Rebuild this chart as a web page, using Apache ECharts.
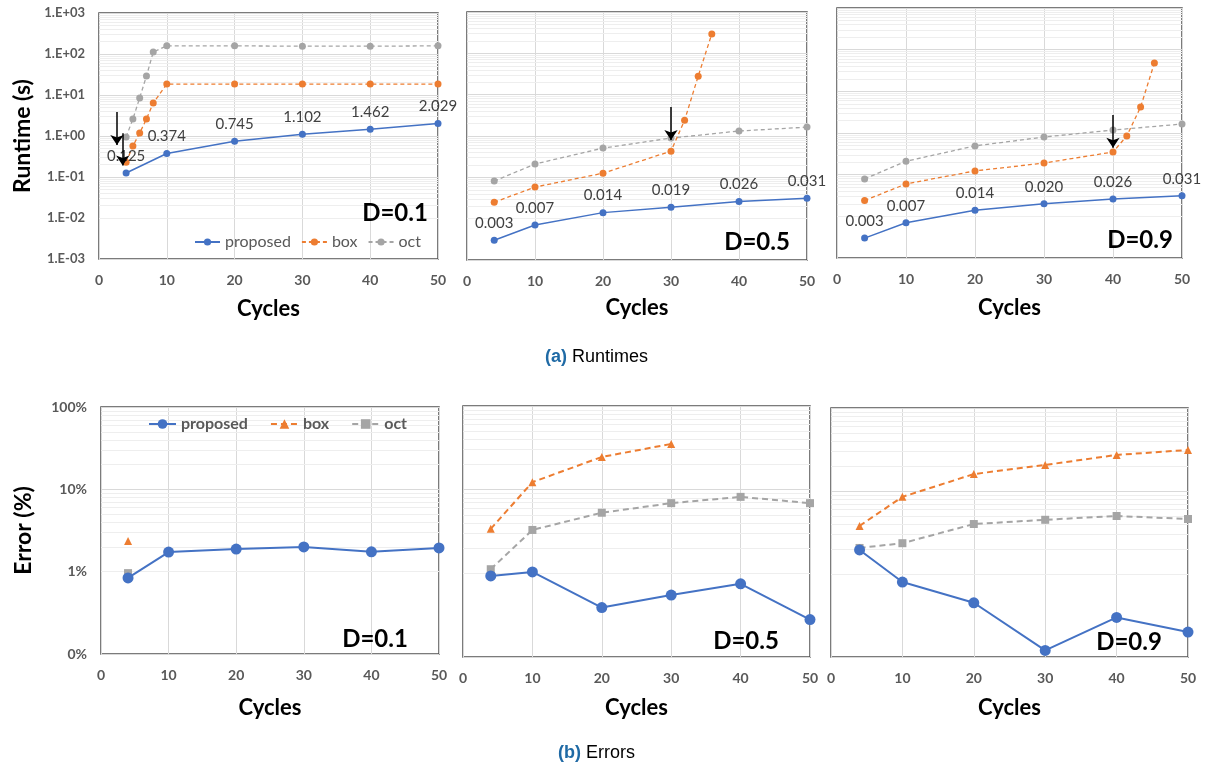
<!DOCTYPE html>
<html>
<head>
<meta charset="utf-8">
<script src="https://cdn.jsdelivr.net/npm/echarts@6/dist/echarts.min.js"></script>
<style>
  html, body { margin: 0; padding: 0; background: #fff; }
  #chart { width: 1206px; height: 768px; }
</style>
</head>
<body>
<div id="chart"></div>
<script>
// cycles used by most series
const cycles = [4, 10, 20, 30, 40, 50];

// runtimes (s), D=0.1
const rt1Proposed = [0.125, 0.374, 0.745, 1.102, 1.462, 2.029];
const rt1BoxCycles = [4, 5, 6, 7, 8, 10, 20, 30, 40, 50];
const rt1Box = [0.23, 0.57, 1.18, 2.6, 6.4, 18.5, 18.5, 18.5, 18.5, 18.5];
const rt1OctCycles = [4, 5, 6, 7, 8, 10, 20, 30, 40, 50];
const rt1Oct = [0.95, 2.6, 8.5, 29, 112, 158, 158, 155, 155, 158];
// runtimes (s), D=0.5
const rt2Proposed = [0.003, 0.007, 0.014, 0.019, 0.026, 0.031];
const rt2BoxCycles = [4, 10, 20, 30, 32, 34, 36];
const rt2Box = [0.025, 0.058, 0.126, 0.43, 2.4, 28, 295];
const rt2Oct = [0.081, 0.21, 0.51, 0.89, 1.32, 1.64];
// runtimes (s), D=0.9
const rt3Proposed = [0.003, 0.007, 0.014, 0.020, 0.026, 0.031];
const rt3BoxCycles = [4, 10, 20, 30, 40, 42, 44, 46];
const rt3Box = [0.024, 0.06, 0.123, 0.19, 0.35, 0.85, 4.2, 48];
const rt3Oct = [0.079, 0.21, 0.49, 0.8, 1.18, 1.64];

// errors (fraction), D=0.1
const err1Proposed = [0.0084, 0.0173, 0.0188, 0.020, 0.0174, 0.0194];
const err1BoxCycles = [4];
const err1Box = [0.0235];
const err1OctCycles = [4];
const err1Oct = [0.0096];
// errors, D=0.5
const err2Proposed = [0.0093, 0.0104, 0.0039, 0.0055, 0.0075, 0.0028];
const err2BoxCycles = [4, 10, 20, 30];
const err2Box = [0.034, 0.123, 0.246, 0.352];
const err2Oct = [0.0112, 0.033, 0.053, 0.069, 0.082, 0.069];
// errors, D=0.9
const err3Proposed = [0.0195, 0.0080, 0.0045, 0.0012, 0.0030, 0.0020];
const err3Box = [0.038, 0.085, 0.160, 0.206, 0.272, 0.312];
const err3Oct = [0.0206, 0.0235, 0.040, 0.045, 0.050, 0.046];

// arrows: [cycle, from, to]
const rtArrows = [
  [[2.65, 3.85, 0.6], [3.5, 1.17, 0.19]],
  [[30, 5.0, 0.8]],
  [[40, 2.7, 0.44]]
];

const runtimeTicks = ['1.E-03', '1.E-02', '1.E-01', '1.E+00', '1.E+01', '1.E+02', '1.E+03'];
const errorTicks = ['0%', '1%', '10%', '100%'];
const panelLabels = ['D=0.1', 'D=0.5', 'D=0.9'];

const BLUE = '#4472C4', ORANGE = '#ED7D31', GRAY = '#A5A5A5';
const FONT = 'Lato';

const grids = [
  { left: 99, top: 13, width: 339, height: 246 },
  { left: 467, top: 12, width: 340, height: 248 },
  { left: 837, top: 8, width: 345, height: 250 },
  { left: 101, top: 407, width: 338, height: 247 },
  { left: 463, top: 406, width: 347, height: 251 },
  { left: 831, top: 408, width: 357, height: 249 }
];
const cyclesGap = [39, 37, 39, 43, 40, 40];
const textPos = [[395, 213], [757, 242], [1140, 240], [375, 639], [746, 641], [1129, 642]];

function zip(xs, ys) { return ys.map((y, i) => [xs[i], y]); }

// faint log minor gridlines (2..9 in each decade)
function minorLines(lo, hi) {
  const out = [];
  for (let e = lo; e < hi; e++) {
    for (let k = 2; k <= 9; k++) out.push({ yAxis: k * Math.pow(10, e) });
  }
  return out;
}

const series = [];

function gridSeries(i, lo, hi) {
  series.push({
    type: 'line', xAxisIndex: i, yAxisIndex: i, data: [], silent: true, z: 1,
    markLine: {
      silent: true, z: 1, symbol: ['none', 'none'], label: { show: false },
      lineStyle: { color: '#eeeeee', width: 1, type: 'solid' },
      emphasis: { disabled: true },
      data: minorLines(lo, hi)
    }
  });
}

function runtimePanel(i, prop, boxX, box, octX, oct) {
  gridSeries(i, -3, 3);
  const dash = { width: 1.3, type: [4, 3] };
  series.push({
    name: 'oct', type: 'line', xAxisIndex: i, yAxisIndex: i,
    data: zip(octX, oct), symbol: 'circle', symbolSize: 7,
    itemStyle: { color: GRAY, borderWidth: 0 }, lineStyle: Object.assign({ color: GRAY }, dash)
  });
  series.push({
    name: 'box', type: 'line', xAxisIndex: i, yAxisIndex: i,
    data: zip(boxX, box), symbol: 'circle', symbolSize: 7,
    itemStyle: { color: ORANGE, borderWidth: 0 }, lineStyle: Object.assign({ color: ORANGE }, dash)
  });
  series.push({
    name: 'proposed', type: 'line', xAxisIndex: i, yAxisIndex: i,
    data: zip(cycles, prop), symbol: 'circle', symbolSize: 7,
    itemStyle: { color: BLUE, borderWidth: 0 }, lineStyle: { color: BLUE, width: 1.5 },
    label: {
      show: true, position: 'top', distance: 6, fontSize: 15, color: '#404040',
      fontFamily: FONT, formatter: p => p.value[1].toFixed(3)
    }
  });
  series.push({
    type: 'line', xAxisIndex: i, yAxisIndex: i, data: [], silent: true, z: 6,
    markLine: {
      silent: true, z: 6, symbol: ['none', 'arrow'], symbolSize: 10,
      label: { show: false }, lineStyle: { color: '#000', width: 1.5, type: 'solid' },
      emphasis: { disabled: true },
      data: rtArrows[i].map(a => [{ coord: [a[0], a[1]] }, { coord: [a[0], a[2]] }])
    }
  });
}

function errorPanel(i, prop, boxX, box, octX, oct) {
  gridSeries(i, -3, 0);
  const dash = { width: 2, type: [6, 4] };
  series.push({
    name: 'oct_e', type: 'line', xAxisIndex: i, yAxisIndex: i,
    data: zip(octX, oct), symbol: 'rect', symbolSize: 8,
    itemStyle: { color: GRAY, borderWidth: 0 }, lineStyle: Object.assign({ color: GRAY }, dash)
  });
  series.push({
    name: 'box_e', type: 'line', xAxisIndex: i, yAxisIndex: i,
    data: zip(boxX, box), symbol: 'triangle', symbolSize: 8,
    itemStyle: { color: ORANGE, borderWidth: 0 }, lineStyle: Object.assign({ color: ORANGE }, dash)
  });
  series.push({
    name: 'proposed_e', type: 'line', xAxisIndex: i, yAxisIndex: i,
    data: zip(cycles, prop), symbol: 'circle', symbolSize: 11,
    itemStyle: { color: BLUE, borderWidth: 0 }, lineStyle: { color: BLUE, width: 2 }
  });
}

runtimePanel(0, rt1Proposed, rt1BoxCycles, rt1Box, rt1OctCycles, rt1Oct);
runtimePanel(1, rt2Proposed, rt2BoxCycles, rt2Box, cycles, rt2Oct);
runtimePanel(2, rt3Proposed, rt3BoxCycles, rt3Box, cycles, rt3Oct);
errorPanel(3, err1Proposed, err1BoxCycles, err1Box, err1OctCycles, err1Oct);
errorPanel(4, err2Proposed, err2BoxCycles, err2Box, cycles, err2Oct);
errorPanel(5, err3Proposed, cycles, err3Box, cycles, err3Oct);

const xAxes = grids.map((g, i) => ({
  type: 'value', gridIndex: i, min: 0, max: 50, interval: 10,
  axisLine: { show: false }, axisTick: { show: false },
  axisLabel: { color: '#595959', fontSize: 14, fontWeight: 'bold', fontFamily: FONT, margin: 14 },
  splitLine: { show: true, lineStyle: { color: '#d9d9d9' } },
  name: 'Cycles', nameLocation: 'middle', nameGap: cyclesGap[i],
  nameTextStyle: { fontSize: 22, fontWeight: 'bold', color: '#000', fontFamily: FONT }
}));

const yAxes = grids.map((g, i) => {
  const isRt = i < 3;
  const first = i === 0 || i === 3;
  return {
    type: 'log', logBase: 10, gridIndex: i,
    min: 0.001, max: isRt ? 1000 : 1, splitNumber: isRt ? 6 : 3,
    axisLine: { show: false }, axisTick: { show: false },
    axisLabel: {
      show: first, color: '#595959', fontSize: isRt ? 13 : 14, fontWeight: 'bold',
      fontFamily: FONT, margin: 14,
      formatter: v => {
        const e = Math.round(Math.log10(v));
        return isRt ? runtimeTicks[e + 3] : errorTicks[e + 3];
      }
    },
    splitLine: { show: true, lineStyle: { color: '#d9d9d9' } },
    minorTick: { show: false }, minorSplitLine: { show: false },
    name: first ? (isRt ? 'Runtime (s)' : 'Error (%)') : '',
    nameLocation: 'middle', nameGap: isRt ? 65 : 66,
    nameTextStyle: { fontSize: 23, fontWeight: 'bold', color: '#000', fontFamily: FONT }
  };
});

const capRich = {
  a: { color: '#1f6aa5', fontWeight: 'bold', fontSize: 18, fontFamily: 'Liberation Sans' },
  b: { color: '#000', fontWeight: 'normal', fontSize: 18, fontFamily: 'Liberation Sans' }
};

const option = {
  animation: false,
  backgroundColor: '#fff',
  title: [
    { text: '{a|(a)} {b|Runtimes}', left: 540, top: 343, textStyle: { fontWeight: 'normal', rich: capRich } },
    { text: '{a|(b)} {b|Errors}', left: 553, top: 739, textStyle: { fontWeight: 'normal', rich: capRich } }
  ],
  legend: [
    {
      data: ['proposed', 'box', 'oct'], left: 189, top: 229,
      itemWidth: 25, itemHeight: 9, itemGap: 10,
      textStyle: { color: '#595959', fontSize: 16, fontFamily: FONT }
    },
    {
      data: ['proposed_e', 'box_e', 'oct_e'], left: 143, top: 411,
      itemWidth: 27, itemHeight: 12, itemGap: 22,
      formatter: n => n.replace('_e', ''),
      textStyle: { color: '#595959', fontSize: 16, fontWeight: 'bold', fontFamily: FONT }
    }
  ],
  grid: grids.map(g => Object.assign({
    show: true, borderColor: '#505050', borderWidth: 1.5, backgroundColor: '#fff'
  }, g)),
  xAxis: xAxes,
  yAxis: yAxes,
  series: series,
  graphic: textPos.map((p, i) => ({
    type: 'text', x: p[0], y: p[1], z: 10,
    style: {
      text: panelLabels[i % 3], fill: '#000', font: 'bold 24px ' + FONT,
      align: 'center', verticalAlign: 'middle'
    }
  }))
};

const chart = echarts.init(document.getElementById('chart'));
chart.setOption(option);
</script>
</body>
</html>
